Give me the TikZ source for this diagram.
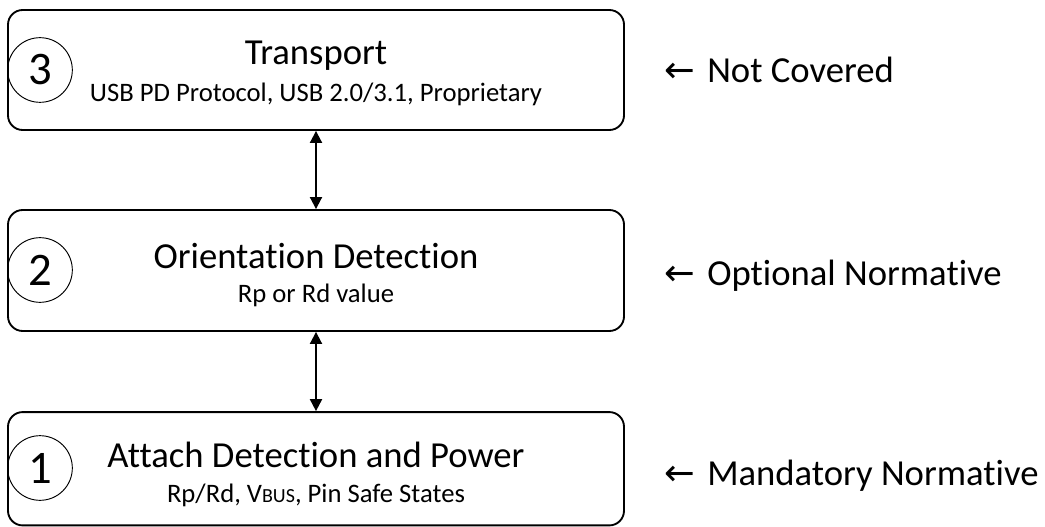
\documentclass[tikz,border=0pt]{standalone}
\usepackage{fontspec}
\setmainfont{Carlito}[Ligatures=NoCommon]
\newfontfamily\symf{DejaVu Sans}
\usetikzlibrary{arrows.meta}
\begin{document}
\begin{tikzpicture}[x=0.75pt,y=-0.75pt,
  layer/.style={draw, line width=1.4pt, rounded corners=11pt, minimum width=462pt, inner sep=0pt},
  num/.style={draw, circle, line width=0.7pt, minimum size=48.5pt, inner sep=0pt, font=\fontsize{35}{35}\selectfont},
  title/.style={anchor=base, inner sep=0pt, font=\fontsize{27.5}{27.5}\selectfont},
  sub/.style={anchor=base, inner sep=0pt, font=\fontsize{20}{20}\selectfont},
  lab/.style={anchor=base west, inner sep=0pt, font=\fontsize{27.5}{27.5}\selectfont},
  link/.style={line width=1.4pt, {Triangle[width=9pt,length=9pt]}-{Triangle[width=9pt,length=9pt]}}]
\useasboundingbox (0,0) rectangle (1045,527);
% layer boxes
\node[layer, minimum height=90pt] (b3) at (316,70) {};
\node[layer, minimum height=90.75pt] (b2) at (316,270.5) {};
\node[layer, minimum height=85pt] (b1) at (316,468.75) {};
% number circles
\node[num] (c3) at (40,70) {3};
\node[num] (c2) at (40,270) {2};
\node[num] (c1) at (40,468) {1};
% titles and subtitles
\node[title] (t3) at (316,65) {Transport};
\node[sub] (s3) at (316,102) {USB PD Protocol, USB 2.0/3.1, Proprietary};
\node[title] (t2) at (316,268) {Orientation Detection};
\node[sub] (s2) at (316,302) {Rp or Rd value};
\node[title] (t1) at (316,467) {Attach Detection and Power};
\node[sub] (s1) at (316,502) {Rp/Rd, V{\fontsize{15}{15}\selectfont BUS}, Pin Safe States};
% connectors
\draw[link] (b3.south) -- (b2.north);
\draw[link] (b2.south) -- (b1.north);
% right labels
\node[lab] (l3) at (664,83) {{\symf ←}\hspace{3pt} Not Covered};
\node[lab] (l2) at (664,285) {{\symf ←}\hspace{3pt} Optional Normative};
\node[lab] (l1) at (664,485) {{\symf ←}\hspace{3pt} Mandatory Normative};
\end{tikzpicture}
\end{document}
